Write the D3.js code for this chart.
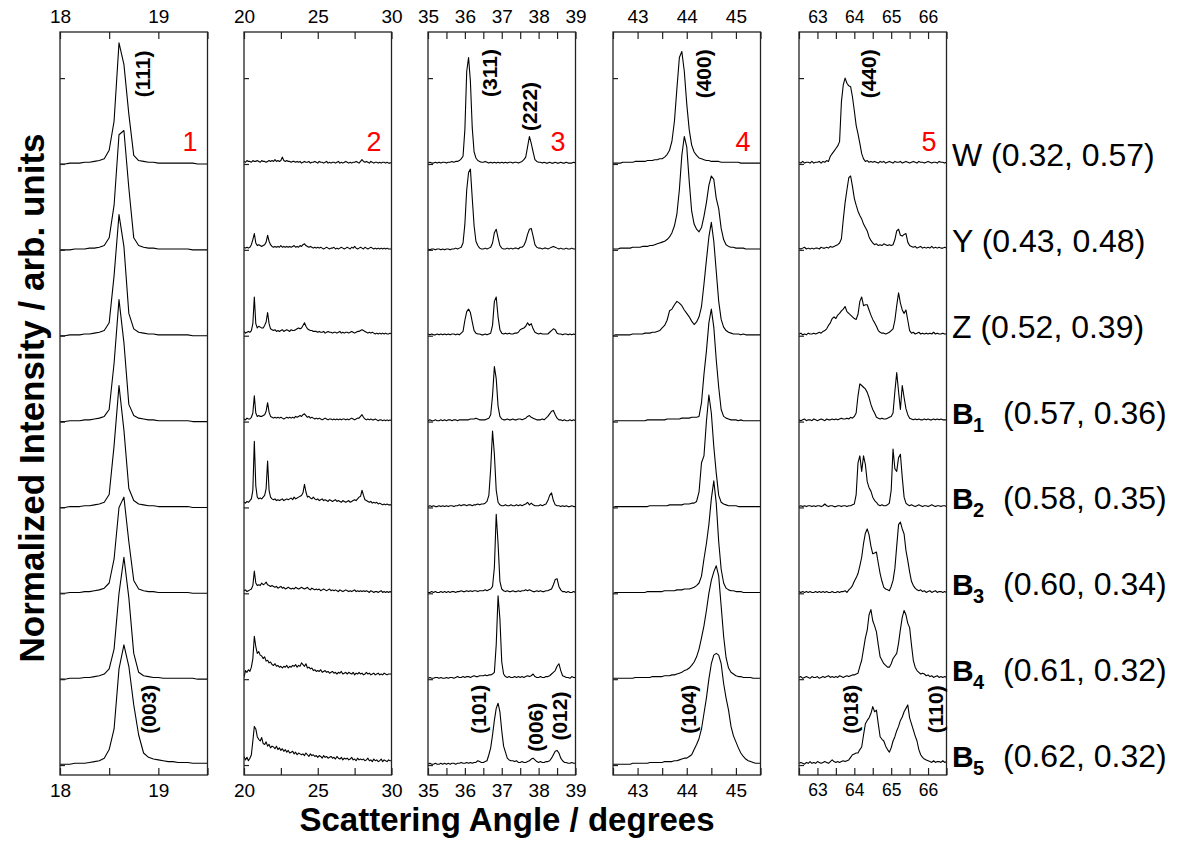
<!DOCTYPE html>
<html>
<head>
<meta charset="utf-8">
<script src="https://cdn.jsdelivr.net/npm/d3@7"></script>
<style>
  body { margin: 0; background: #fff; }
  svg text { font-family: Arial, "Liberation Sans", sans-serif; }
</style>
</head>
<body>
<svg id="chart" width="1182" height="841"></svg>
<script>
// samples, top to bottom
var sampleNames = ["W", "Y", "Z", "B", "B", "B", "B", "B"];
var sampleSubs = ["", "", "", "1", "2", "3", "4", "5"];
var sampleCoords = ["(0.32, 0.57)", "(0.43, 0.48)", "(0.52, 0.39)", "(0.57, 0.36)",
                    "(0.58, 0.35)", "(0.60, 0.34)", "(0.61, 0.32)", "(0.62, 0.32)"];
var offsets = [700, 600, 500, 400, 300, 200, 100, 0];

// angle windows (degrees)
var panelDomains = [[18, 19.5], [20, 30], [35, 39], [42.5, 45.5], [62.5, 66.5]];
var panelTicks = [
  [18, 18.5, 19, 19.5],
  [20, 22.5, 25, 27.5, 30],
  [35, 35.5, 36, 36.5, 37, 37.5, 38, 38.5, 39],
  [42.5, 43, 43.5, 44, 44.5, 45, 45.5],
  [62.5, 63, 63.5, 64, 64.5, 65, 65.5, 66, 66.5]
];
var panelTickLabels = [[18, 19], [20, 25, 30], [35, 36, 37, 38, 39], [43, 44, 45], [63, 64, 65, 66]];
var panelNumbers = ["1", "2", "3", "4", "5"];
var scanStart = [18, 20, 35, 42.5, 62.5];
var scanStep = [0.05, 0.1, 0.05, 0.05, 0.05];

// reflection labels: panel, text, angle, level
var hklPanel = [0, 2, 2, 3, 4, 0, 2, 2, 2, 3, 4, 4];
var hklText = ["(111)", "(311)", "(222)", "(400)", "(440)", "(003)", "(101)", "(006)", "(012)", "(104)", "(018)", "(110)"];
var hklAngle = [18.84, 36.68, 37.76, 44.35, 64.4, 18.9, 36.36, 37.93, 38.58, 44.03, 63.91, 66.21];
var hklLevel = [805, 806, 767, 805, 805, 65, 65, 44, 57, 65, 65, 65];

// panel 1: 18-19.5, step 0.05
var p1_W  = [0,0,1,1,1,2,2,3,4,6,16,50,141,116,58,10,4,3,2,2,1,1,1,1,1,1,1,1,0,0,0];
var p1_Y  = [0,0,0,1,1,1,2,2,3,5,14,52,134,139,72,14,5,3,2,2,1,1,1,1,1,1,1,0,0,0,0];
var p1_Z  = [0,0,1,1,1,2,2,3,4,6,15,70,141,104,26,8,4,3,2,2,1,1,1,1,1,1,1,0,0,0,0];
var p1_B1 = [0,0,1,1,1,2,2,3,4,6,14,68,142,92,20,7,4,3,2,2,1,1,1,1,1,1,1,0,0,0,0];
var p1_B2 = [0,0,1,1,1,2,2,3,4,6,15,72,142,90,22,8,4,3,2,2,1,1,1,1,1,1,1,0,0,0,0];
var p1_B3 = [0,0,1,1,1,2,2,3,4,6,12,40,100,112,60,15,5,3,2,2,1,1,1,1,1,1,1,0,0,0,0];
var p1_B4 = [0,0,1,1,1,2,2,3,4,6,12,35,100,142,95,30,8,4,3,2,2,1,1,1,1,1,1,1,0,0,0];
var p1_B5 = [1,1,1,2,2,2,3,4,5,8,18,42,112,140,115,70,35,14,9,7,6,5,4,4,3,3,3,2,2,2,2];

// panel 2: 20-30, step 0.1
var p2_W = [3,2,4,3,3,2,4,3,3,4, 3,2,4,3,3,2,3,4,3,4, 3,5,3,4,3,4,8,4,3,4, 3,3,2,3,3,2,3,2,3,1,
            2,3,2,2,3,1,2,2,3,2, 1,3,2,2,1,2,3,1,2,1, 2,2,1,2,3,1,2,1,2,3, 2,1,2,1,2,2,3,2,1,3,
            5,3,2,3,2,1,3,2,1,2, 2,1,2,1,2,2,1,2,1,1, 2];
var p2_Y = [3,2,3,2,3,6,12,19,8,5, 6,5,4,5,6,9,17,10,6,4, 3,4,3,4,3,5,3,4,3,4, 3,4,3,4,5,3,4,3,5,4,
            6,7,5,4,3,4,3,2,3,2, 3,2,3,2,1,2,3,2,1,2, 2,3,1,2,1,2,3,2,1,2, 3,2,1,3,2,4,2,1,2,3,
            2,1,3,2,1,2,3,2,1,2, 1,2,1,2,1,2,1,2,1,1, 1];
var p2_Z = [5,3,4,5,4,6,14,45,14,9, 11,10,9,9,12,16,27,14,8,7, 6,7,5,6,5,6,7,5,6,7, 6,5,7,6,6,7,8,9,8,9,
            12,15,11,8,7,6,6,5,5,5, 4,5,4,4,5,3,4,5,4,4, 3,4,4,3,4,5,3,4,3,4, 4,3,4,5,4,3,4,5,5,6,
            7,6,5,4,3,4,3,4,3,2, 3,2,3,2,3,2,3,2,2,3, 2];
var p2_B1 = [3,2,4,3,3,5,10,30,10,6, 7,6,6,7,8,12,22,11,6,5, 4,5,4,5,4,5,4,3,4,5, 4,5,4,5,4,6,5,6,7,6,
             8,9,7,5,6,4,5,4,3,4, 3,4,3,2,3,4,3,2,3,3, 2,3,2,3,2,3,2,3,3,2, 3,2,3,4,3,2,3,4,4,6,
             8,5,3,2,3,2,3,2,2,3, 2,1,2,2,1,2,1,2,1,2, 1];
var p2_B2 = [6,5,7,6,8,10,20,77,25,12, 10,11,10,12,14,22,54,20,12,10, 9,10,8,9,8,9,10,8,9,10, 9,10,11,9,12,10,11,12,13,14,
             17,27,18,12,13,11,10,12,10,9, 10,8,9,10,8,9,8,7,9,8, 7,8,9,7,8,7,6,8,7,6, 7,8,6,7,8,9,8,10,12,13,
             20,14,9,8,7,6,7,5,6,5, 6,4,5,4,3,4,3,4,3,3, 3];
var p2_B3 = [3,4,2,3,4,5,9,26,12,9, 10,9,12,10,11,13,10,9,8,9, 8,7,8,6,7,8,6,7,5,6, 7,6,5,6,5,7,6,5,6,7,
             6,5,6,7,5,4,6,5,4,5, 4,5,3,4,5,4,3,4,5,3, 4,3,4,3,2,4,3,2,3,4, 3,2,3,2,3,4,2,3,2,3,
             2,3,2,3,2,1,3,2,1,2, 2,1,2,3,1,2,1,2,1,2, 1];
var p2_B4 = [2,10,8,11,9,14,24,50,38,30, 32,28,27,24,26,21,22,19,20,17, 16,18,15,16,14,15,13,15,14,16, 13,15,14,16,15,17,14,16,15,19,
             17,15,18,13,14,12,13,10,11,9, 10,9,11,8,9,10,8,9,7,8, 9,7,8,6,8,7,9,6,7,8, 6,8,7,6,8,5,7,6,8,6,
             7,5,6,8,6,7,5,6,7,5, 6,7,5,6,5,7,6,5,6,6, 6];
var p2_B5 = [10,6,9,5,8,12,28,45,42,33, 30,28,32,25,24,27,22,24,20,22, 21,19,22,18,20,17,19,16,18,15, 17,14,15,16,13,15,12,14,13,12,
             13,11,14,12,10,13,11,12,10,11, 9,11,10,8,11,9,10,8,9,10, 8,9,7,10,8,7,9,6,8,7, 8,6,7,9,6,7,5,8,6,7,
             6,7,5,6,8,5,6,4,7,5, 6,4,5,7,4,6,5,4,6,5, 5];

// panel 3: 35-39, step 0.05
var p3_W = [1,2,1,1,2,1,2,1,2,2, 1,2,2,3,2,3,3,4,6,9, 40,108,124,96,42,14,7,4,3,2, 2,3,2,1,2,1,2,1,2,1,
            2,1,2,1,2,2,1,2,2,1, 2,3,5,8,20,32,24,14,5,3, 2,2,1,2,1,1,2,1,1,2, 1,1,2,1,1,2,1,1,1,2, 1];
var p3_Y = [1,0,1,1,0,1,1,0,1,0, 1,1,0,1,1,2,1,2,3,8, 30,70,90,94,60,28,10,5,2,1, 1,2,1,2,3,8,20,24,14,5,
            2,1,1,2,1,2,1,2,2,1, 3,3,5,10,18,24,25,16,6,3, 2,2,1,2,2,1,2,3,4,3, 2,1,2,1,1,2,1,1,2,1, 1];
var p3_Z = [2,1,2,1,1,2,1,2,1,2, 1,2,1,2,2,1,2,1,3,5, 18,28,31,27,16,6,3,2,2,1, 1,2,1,2,3,12,40,45,22,7,
            3,2,3,2,3,2,2,3,3,4, 7,8,9,11,15,12,14,8,4,3, 2,3,2,2,2,2,4,6,8,7, 3,2,2,1,2,2,1,2,1,2, 1];
var p3_B1 = [1,2,1,1,2,1,1,2,1,2, 1,2,2,1,2,2,1,2,2,2, 2,2,2,3,3,3,4,3,2,2, 2,2,3,4,8,30,64,50,18,6,
             3,2,2,3,2,2,3,2,2,3, 3,2,3,4,6,7,5,4,3,2, 2,2,3,2,4,6,9,12,13,8, 4,2,2,1,2,1,1,2,1,2, 1];
var p3_B2 = [1,2,1,2,1,1,2,1,2,1, 2,1,2,2,1,2,2,3,2,3, 3,2,3,3,2,3,3,4,3,4, 4,5,7,14,45,89,62,20,6,3,
             2,2,3,2,2,3,2,2,3,2, 3,2,3,4,6,3,5,3,2,2, 2,3,2,3,4,8,14,17,8,3, 2,2,1,2,1,2,1,1,2,1, 1];
var p3_B3 = [1,1,2,1,2,1,1,2,1,2, 1,2,1,2,2,1,2,2,3,2, 2,3,2,3,2,3,3,2,3,3, 3,4,3,4,5,8,30,92,58,14,
             5,3,2,3,2,2,3,2,2,3, 2,3,3,4,3,4,3,2,2,3, 2,3,2,2,3,3,4,5,10,16, 17,8,4,2,2,1,2,1,1,2, 1];
var p3_B4 = [1,2,1,1,2,2,1,2,1,1, 2,1,2,2,1,2,3,2,2,3, 2,3,3,2,3,4,3,3,4,4, 4,5,4,5,5,6,8,40,97,70,
             20,6,3,2,3,2,2,3,2,3, 2,3,2,3,4,3,4,6,3,2, 2,3,2,2,3,3,4,6,8,10, 15,18,10,4,3,2,2,1,3,2, 2];
var p3_B5 = [1,2,1,1,2,1,1,2,1,2, 1,2,1,2,2,1,2,2,3,2, 2,3,2,3,2,3,3,5,4,3, 3,4,5,12,20,35,52,66,72,62,
             40,22,15,8,6,5,5,4,5,3, 3,4,3,3,4,5,7,8,6,4, 3,4,3,3,4,4,5,8,12,16, 17,14,8,5,3,3,2,2,3,2, 2];

// panel 4: 42.5-45.5, step 0.05
var p4_W = [1,1,1,1,2,2,2,2,2,3, 3,3,3,3,4,4,4,5,5,6, 6,8,11,16,27,50,88,124,131,108,
            70,40,22,14,10,7,6,5,4,4, 3,3,3,3,2,2,2,2,2,2, 2,2,1,1,1,1,1,1,1,1, 1];
var p4_Y = [1,1,1,2,2,2,2,2,3,3, 3,3,4,4,4,5,5,6,7,8, 9,10,12,15,20,28,42,70,110,132,
            120,80,45,30,24,21,26,39,55,75, 86,82,60,48,25,12,6,4,3,3, 2,2,2,2,1,1,1,1,1,1, 1];
var p4_Z = [0,1,1,1,1,1,1,1,2,2, 2,2,2,3,3,3,4,4,5,6, 9,12,18,29,31,36,40,38,35,30,
            26,22,17,13,16,22,34,60,88,115, 132,110,75,40,19,10,6,4,3,2, 2,2,1,2,1,1,1,1,1,1, 1];
var p4_B1 = [0,1,1,1,1,1,1,1,1,1, 1,1,1,1,2,2,2,2,2,2, 2,2,3,3,3,3,3,3,4,4,
             4,4,5,5,5,6,22,55,82,115, 131,110,72,40,14,6,4,3,2,2, 2,1,2,1,1,1,1,1,1,1, 1];
var p4_B2 = [0,1,1,1,1,1,1,1,1,1, 1,1,1,1,1,2,2,2,2,2, 2,2,2,3,3,3,3,3,3,4,
             4,4,5,5,7,18,52,60,100,131, 110,71,40,14,6,4,3,2,2,2, 2,1,1,1,1,1,1,1,1,1, 1];
var p4_B3 = [0,1,1,1,1,1,1,1,1,1, 1,1,1,1,2,2,2,2,2,2, 2,3,3,3,3,3,4,4,4,5,
             5,5,6,7,9,12,20,40,58,80, 110,131,105,60,28,12,6,4,3,3, 2,2,2,1,1,1,1,1,1,1, 1];
var p4_B4 = [1,1,1,1,1,1,1,1,1,2, 2,2,2,2,2,2,3,3,3,3, 3,4,4,4,5,5,6,7,8,10,
             11,13,16,20,26,35,48,62,80,100, 115,125,132,120,85,50,25,13,8,6, 4,3,3,2,2,2,2,1,1,1, 1];
var p4_B5 = [1,1,1,1,1,1,1,1,2,2, 2,2,2,2,2,3,3,3,3,3, 3,4,4,4,4,5,5,6,7,8,
             8,10,12,18,24,31,42,60,78,100, 118,128,130,128,118,95,78,64,45,34, 27,20,14,10,7,5,4,3,2,2, 2];

// panel 5: 62.5-66.5, step 0.05
var p5_W = [2,1,3,1,2,2,1,3,1,2, 2,3,1,3,2,4,3,9,12,15, 18,21,26,72,92,100,94,91,90,78, 62,45,35,24,12,6,3,4,2,3,
            2,3,2,1,3,2,3,1,2,3, 2,1,3,2,2,3,1,2,3,2, 1,2,3,2,1,3,2,2,1,2, 3,2,1,2,2,1,3,2,2,1, 2];
var p5_Y = [2,1,2,3,1,2,1,2,1,2, 2,1,3,2,2,3,2,4,3,4, 5,6,8,13,35,55,70,84,86,74, 60,52,45,40,36,30,26,22,15,11,
            8,6,7,5,6,5,7,6,5,6, 5,6,12,22,24,17,16,18,19,9, 5,4,3,4,2,3,4,2,3,2, 3,2,4,2,3,2,3,2,2,3, 2];
var p5_Z = [2,3,1,2,1,3,2,2,3,2, 3,4,3,5,6,8,12,15,20,22, 20,24,26,29,31,34,28,26,24,22, 20,19,25,40,45,35,36,36,30,24,
            19,15,11,6,4,3,3,2,3,4, 6,8,18,35,50,38,30,26,30,18, 6,3,4,2,3,4,2,3,2,3, 2,3,2,4,2,3,2,2,3,2, 2];
var p5_B1 = [2,1,2,3,1,2,2,1,3,2, 1,2,3,2,1,3,2,2,3,2, 3,2,3,4,3,3,4,3,5,4, 6,10,30,44,42,40,38,34,28,20,
             14,10,5,4,3,4,3,3,4,5, 6,10,35,57,35,14,42,28,15,8, 4,3,2,3,2,3,2,2,3,2, 3,2,2,3,2,3,2,3,2,2, 2];
var p5_B2 = [1,2,1,2,1,2,2,1,2,1, 2,2,1,2,4,2,1,2,2,1, 1,2,2,1,2,2,1,2,2,3, 4,15,52,60,42,60,50,30,23,19,
             12,8,6,3,2,3,2,2,3,5, 20,68,45,42,58,62,35,12,5,3, 2,3,2,1,2,3,2,1,2,2, 1,2,3,2,1,2,2,1,2,2, 1];
var p5_B3 = [2,1,2,1,2,1,2,1,1,2, 1,2,1,2,1,2,1,1,2,1, 1,2,1,2,2,3,1,4,6,9, 14,18,23,32,42,58,70,75,68,55,
             46,47,48,35,23,14,7,5,4,3, 8,15,29,55,80,83,75,69,50,38, 25,14,9,6,4,3,4,2,3,1, 2,3,1,2,3,1,2,2,1,2, 1];
var p5_B4 = [2,3,1,2,3,2,1,3,2,2, 3,1,2,3,2,3,4,2,3,2, 3,2,4,3,2,3,4,3,4,5, 5,6,7,15,22,35,48,57,75,81,
             68,62,55,40,26,22,18,16,14,14, 18,24,27,30,42,58,72,80,75,65, 60,40,22,14,10,8,6,7,6,4, 5,3,4,2,3,4,2,3,2,3, 2];
var p5_B5 = [2,3,2,1,3,2,4,2,3,2, 4,3,2,3,4,3,2,4,6,4, 3,4,3,4,5,4,5,6,9,12, 13,14,14,18,21,35,48,52,55,60,
             68,62,64,48,33,30,28,22,18,15, 20,28,33,40,45,52,56,62,66,70, 55,48,41,34,28,18,12,9,7,6, 5,4,3,5,3,4,4,3,5,3, 4];

var traces = [
  [p1_W, p1_Y, p1_Z, p1_B1, p1_B2, p1_B3, p1_B4, p1_B5],
  [p2_W, p2_Y, p2_Z, p2_B1, p2_B2, p2_B3, p2_B4, p2_B5],
  [p3_W, p3_Y, p3_Z, p3_B1, p3_B2, p3_B3, p3_B4, p3_B5],
  [p4_W, p4_Y, p4_Z, p4_B1, p4_B2, p4_B3, p4_B4, p4_B5],
  [p5_W, p5_Y, p5_Z, p5_B1, p5_B2, p5_B3, p5_B4, p5_B5]
];

// layout
var panelLeft = [60, 244, 428, 613, 799];
var panelWidth = 147.5;
var plotTop = 32, plotBottom = 775;

var svg = d3.select("#chart");
var y = d3.scaleLinear().domain([-11.6, 853.7]).range([plotBottom, plotTop]);

panelDomains.forEach(function(dom, p) {
  var x = d3.scaleLinear().domain(dom).range([panelLeft[p], panelLeft[p] + panelWidth]);
  var labelled = panelTickLabels[p];
  var fs = p === 4 ? 17.5 : 19;

  svg.append("clipPath").attr("id", "clip" + p)
    .append("rect")
    .attr("x", panelLeft[p]).attr("y", plotTop)
    .attr("width", panelWidth).attr("height", plotBottom - plotTop);

  var g = svg.append("g").attr("clip-path", "url(#clip" + p + ")");
  traces[p].forEach(function(vals, s) {
    var line = d3.line()
      .x(function(d, i) { return x(scanStart[p] + i * scanStep[p]); })
      .y(function(d) { return y(offsets[s] + d); });
    g.append("path")
      .datum(vals)
      .attr("d", line)
      .attr("fill", "none")
      .attr("stroke", "#000")
      .attr("stroke-width", 1.1)
      .attr("stroke-linejoin", "round");
  });

  var fmt = function(d) { return labelled.indexOf(d) >= 0 ? d : ""; };
  var top = svg.append("g")
    .attr("transform", "translate(0," + plotTop + ")")
    .call(d3.axisTop(x).tickValues(panelTicks[p]).tickSizeInner(-7).tickSizeOuter(0).tickPadding(9).tickFormat(fmt));
  var bottom = svg.append("g")
    .attr("transform", "translate(0," + plotBottom + ")")
    .call(d3.axisBottom(x).tickValues(panelTicks[p]).tickSizeInner(-7).tickSizeOuter(0).tickPadding(9).tickFormat(fmt));
  var left = svg.append("g")
    .attr("transform", "translate(" + panelLeft[p] + ",0)")
    .call(d3.axisLeft(y).tickValues(offsets.concat([800])).tickSizeInner(-5).tickSizeOuter(0).tickFormat(""));
  [top, bottom, left].forEach(function(ax) {
    ax.select(".domain").remove();
    ax.selectAll("line").attr("stroke", "#222").attr("stroke-width", 1.2);
    ax.selectAll("text").filter(function() { return this.textContent === ""; }).remove();
    ax.selectAll("text").attr("font-size", fs).attr("font-family", "Arial, 'Liberation Sans', sans-serif").attr("fill", "#000");
  });

  svg.append("rect")
    .attr("x", panelLeft[p]).attr("y", plotTop)
    .attr("width", panelWidth).attr("height", plotBottom - plotTop)
    .attr("fill", "none").attr("stroke", "#222").attr("stroke-width", 1.3);

  svg.append("text")
    .attr("x", panelLeft[p] + panelWidth - 10)
    .attr("y", 151)
    .attr("text-anchor", "end")
    .attr("font-size", 27)
    .attr("fill", "#ff0000")
    .text(panelNumbers[p]);

  hklText.forEach(function(t, k) {
    if (hklPanel[k] !== p) return;
    var cx = x(hklAngle[k]), cy = y(hklLevel[k]);
    svg.append("text")
      .attr("transform", "translate(" + cx + "," + cy + ") rotate(-90)")
      .attr("text-anchor", "middle")
      .attr("dy", "0.35em")
      .attr("font-size", 21)
      .attr("font-weight", "bold")
      .text(t);
  });
});

// sample labels on the right
sampleNames.forEach(function(n, s) {
  var by = y(offsets[s]) + 2;
  if (sampleSubs[s] === "") {
    svg.append("text").attr("x", 952).attr("y", by)
      .attr("font-size", 32).text(n + " " + sampleCoords[s]);
  } else {
    svg.append("text").attr("x", 952).attr("y", by)
      .attr("font-size", 30).attr("font-weight", "bold").text(n);
    svg.append("text").attr("x", 973).attr("y", by + 8)
      .attr("font-size", 20).attr("font-weight", "bold").text(sampleSubs[s]);
    svg.append("text").attr("x", 1003).attr("y", by)
      .attr("font-size", 32).text(sampleCoords[s]);
  }
});

// axis titles
svg.append("text")
  .attr("x", 507).attr("y", 831)
  .attr("text-anchor", "middle")
  .attr("font-size", 33).attr("font-weight", "bold")
  .text("Scattering Angle / degrees");

svg.append("text")
  .attr("transform", "translate(44,398) rotate(-90)")
  .attr("text-anchor", "middle")
  .attr("font-size", 35).attr("font-weight", "bold")
  .text("Normalized Intensity / arb. units");
</script>
</body>
</html>
